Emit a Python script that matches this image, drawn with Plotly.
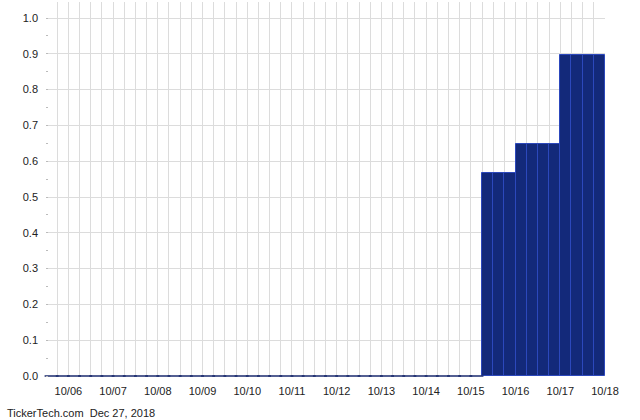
import plotly.graph_objects as go

# Quarterly periods (50 slots) and their dividend values
quarters = [
    "2006Q1", "2006Q2", "2006Q3", "2006Q4", "2007Q1", "2007Q2", "2007Q3", "2007Q4",
    "2008Q1", "2008Q2", "2008Q3", "2008Q4", "2009Q1", "2009Q2", "2009Q3", "2009Q4",
    "2010Q1", "2010Q2", "2010Q3", "2010Q4", "2011Q1", "2011Q2", "2011Q3", "2011Q4",
    "2012Q1", "2012Q2", "2012Q3", "2012Q4", "2013Q1", "2013Q2", "2013Q3", "2013Q4",
    "2014Q1", "2014Q2", "2014Q3", "2014Q4", "2015Q1", "2015Q2", "2015Q3", "2015Q4",
    "2016Q1", "2016Q2", "2016Q3", "2016Q4", "2017Q1", "2017Q2", "2017Q3", "2017Q4",
    "2018Q1", "2018Q2",
]
values = [
    0, 0, 0, 0, 0, 0, 0, 0, 0, 0, 0, 0, 0, 0, 0, 0, 0, 0, 0, 0,
    0, 0, 0, 0, 0, 0, 0, 0, 0, 0, 0, 0, 0, 0, 0, 0, 0, 0, 0,
    0.5675, 0.5675, 0.5675,
    0.6475, 0.6475, 0.6475, 0.6475,
    0.8975, 0.8975, 0.8975, 0.8975,
]
tick_labels = ["10/06", "10/07", "10/08", "10/09", "10/10", "10/11", "10/12",
               "10/13", "10/14", "10/15", "10/16", "10/17", "10/18"]
y_ticks = [0.0, 0.1, 0.2, 0.3, 0.4, 0.5, 0.6, 0.7, 0.8, 0.9, 1.0]
footer = "TickerTech.com  Dec 27, 2018"

n = len(quarters)
xpos = [i + 0.5 for i in range(n)]
nz_x = [x for x, v in zip(xpos, values) if v > 0]
nz_y = [v for v in values if v > 0]
z_x = [x for x, v in zip(xpos, values) if v == 0]
z_y = [v for v in values if v == 0]

# ticks at every slot boundary; labels every 4th starting at boundary 2
tickvals = list(range(n + 1))
ticktext = [""] * (n + 1)
for k, lab in enumerate(tick_labels):
    idx = 2 + 4 * k
    if idx <= n:
        ticktext[idx] = lab

fig = go.Figure()
fig.add_trace(go.Bar(
    x=nz_x, y=nz_y, width=1,
    marker=dict(color="#13297a", line=dict(color="#2c48bc", width=1)),
    hoverinfo="skip",
))
fig.add_trace(go.Scatter(
    x=z_x, y=z_y, mode="markers",
    marker=dict(symbol="line-ew", size=10, line=dict(color="#1a2a6e", width=1.5)),
    cliponaxis=False, hoverinfo="skip",
))

font = dict(family="Liberation Sans, Arial, sans-serif", size=11, color="#222222")
fig.update_layout(
    width=640, height=420,
    margin=dict(l=46, r=35, t=2, b=44),
    paper_bgcolor="white", plot_bgcolor="white",
    showlegend=False, bargap=0,
    font=font,
    xaxis=dict(
        range=[0, n], tickmode="array", tickvals=tickvals, ticktext=ticktext,
        showgrid=True, gridcolor="#dcdcdc", gridwidth=1,
        zeroline=False, showline=False, ticks="", ticklabelstandoff=7,
        fixedrange=True,
    ),
    yaxis=dict(
        range=[0, 1.0447], tickmode="array", tickvals=y_ticks,
        ticktext=[f"{v:.1f}" for v in y_ticks],
        showgrid=True, gridcolor="#dcdcdc", gridwidth=1,
        zeroline=False, showline=False, ticks="", ticklabelstandoff=7,
        minor=dict(dtick=0.05, ticks="inside", ticklen=2, tickcolor="#bbbbbb",
                   showgrid=False, tick0=0.05),
        fixedrange=True,
    ),
    annotations=[dict(
        text=footer, xref="paper", yref="paper",
        x=-41 / 559, y=-37 / 374, xanchor="left", yanchor="middle",
        showarrow=False, font=font,
    )],
)

fig.write_html(
    "out.html",
    config={"displayModeBar": False},
    post_script="document.body.style.margin='0';document.body.style.padding='0';",
)
